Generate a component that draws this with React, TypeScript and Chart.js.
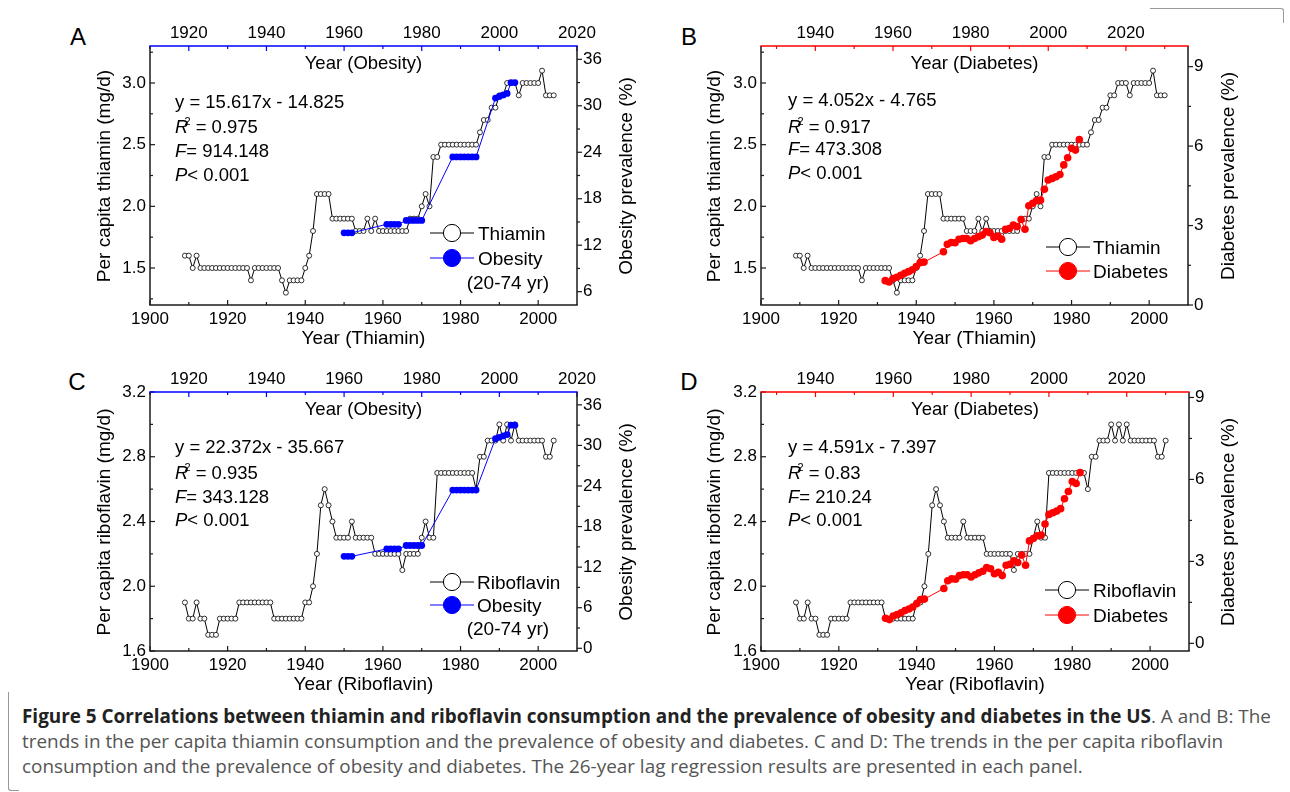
import React, { useEffect, useRef } from "react";
import { Chart, registerables } from "chart.js";

Chart.register(...registerables);

const AXIS_FONT = "'Liberation Sans', Arial, Helvetica, sans-serif";
const CAPTION_FONT = "'Open Sans', 'Noto Sans', sans-serif";
const AXIS_COLOR = "#1a1a1a";
const BLUE = "#0000ff";
const RED = "#ff0000";

// ---------------- data ----------------
// Annual per-capita supply (mg/d), one value per year starting at NUTRIENT_FIRST_YEAR
const NUTRIENT_FIRST_YEAR = 1909;
const THIAMIN = [
  1.6, 1.6, 1.5, 1.6,
  1.5, 1.5, 1.5, 1.5, 1.5, 1.5, 1.5, 1.5, 1.5, 1.5, 1.5, 1.5, 1.5,
  1.4,
  1.5, 1.5, 1.5, 1.5, 1.5, 1.5, 1.5,
  1.4, 1.3, 1.4, 1.4, 1.4, 1.4,
  1.5, 1.6, 1.8,
  2.1, 2.1, 2.1, 2.1,
  1.9, 1.9, 1.9, 1.9, 1.9, 1.9,
  1.8, 1.8, 1.8, 1.9, 1.8, 1.9,
  1.8, 1.8, 1.8, 1.8, 1.8, 1.8, 1.8, 1.8,
  1.9, 1.9, 1.9,
  2.0, 2.1, 2.0, 2.4, 2.4,
  2.5, 2.5, 2.5, 2.5, 2.5, 2.5, 2.5, 2.5, 2.5, 2.5,
  2.6, 2.7, 2.7, 2.8, 2.8, 2.9, 2.9,
  3.0, 3.0, 3.0, 2.9,
  3.0, 3.0, 3.0, 3.0, 3.0,
  3.1, 2.9, 2.9, 2.9,
];
const RIBOFLAVIN = [
  1.9, 1.8, 1.8, 1.9, 1.8, 1.8,
  1.7, 1.7, 1.7,
  1.8, 1.8, 1.8, 1.8, 1.8,
  1.9, 1.9, 1.9, 1.9, 1.9, 1.9, 1.9, 1.9, 1.9,
  1.8, 1.8, 1.8, 1.8, 1.8, 1.8, 1.8, 1.8,
  1.9, 1.9,
  2.0, 2.2, 2.5, 2.6, 2.5, 2.4,
  2.3, 2.3, 2.3, 2.3, 2.4,
  2.3, 2.3, 2.3, 2.3, 2.3,
  2.2, 2.2, 2.2, 2.2, 2.2, 2.2, 2.2,
  2.1, 2.2, 2.2, 2.2, 2.2,
  2.3, 2.4, 2.3, 2.3,
  2.7, 2.7, 2.7, 2.7, 2.7, 2.7, 2.7, 2.7, 2.7, 2.7,
  2.6, 2.8, 2.8,
  2.9, 2.9, 2.9, 3.0, 2.9, 3.0, 2.9, 3.0,
  2.9, 2.9, 2.9, 2.9, 2.9, 2.9, 2.9,
  2.8, 2.8, 2.9,
];

// Obesity prevalence, adults 20-74 yr (%)
const OBESITY_YEARS = [
  1960, 1961, 1962, 1971, 1972, 1973, 1974, 1976, 1977, 1978, 1979, 1980,
  1988, 1989, 1990, 1991, 1992, 1993, 1994, 1999, 2000, 2001, 2002, 2003, 2004,
];
const OBESITY = [
  13.6, 13.6, 13.6, 14.7, 14.7, 14.7, 14.7, 15.2, 15.2, 15.2, 15.2, 15.2,
  23.4, 23.4, 23.4, 23.4, 23.4, 23.4, 23.4, 31.0, 31.2, 31.4, 31.6, 33.0, 33.0,
];

// Diagnosed diabetes prevalence (%)
const DIABETES_YEARS = [
  1958, 1959, 1960, 1961, 1962, 1963, 1964, 1965, 1966, 1967, 1968,
  1973, 1974, 1975, 1976, 1977, 1978, 1979, 1980, 1981, 1982, 1983, 1984,
  1985, 1986, 1987, 1988, 1989, 1990, 1991, 1992, 1993, 1994, 1995, 1996,
  1997, 1998, 1999, 2000, 2001, 2002, 2003, 2004, 2005, 2006, 2007, 2008,
];
const DIABETES = [
  0.92, 0.87, 1.0, 1.05, 1.12, 1.2, 1.26, 1.33, 1.45, 1.6, 1.62,
  2.01, 2.29, 2.36, 2.35, 2.48, 2.51, 2.51, 2.43, 2.51, 2.58, 2.64, 2.77,
  2.73, 2.55, 2.6, 2.48, 2.86, 2.89, 3.02, 2.96, 3.23, 2.86, 3.75, 3.84,
  3.94, 3.96, 4.37, 4.72, 4.78, 4.84, 4.93, 5.29, 5.56, 5.92, 5.85, 6.25,
];

// ---------------- tick values ----------------
const YEAR_TICKS_BOTTOM = [1900, 1910, 1920, 1930, 1940, 1950, 1960, 1970, 1980, 1990, 2000];
const YEAR_TICKS_TOP_OBESITY = [1910, 1920, 1930, 1940, 1950, 1960, 1970, 1980, 1990, 2000, 2010, 2020];
const YEAR_TICKS_TOP_DIABETES = [1930, 1940, 1950, 1960, 1970, 1980, 1990, 2000, 2010, 2020, 2030];
const THIAMIN_TICKS = [1.25, 1.5, 1.75, 2.0, 2.25, 2.5, 2.75, 3.0, 3.25];
const RIBOFLAVIN_TICKS = [1.6, 1.8, 2.0, 2.2, 2.4, 2.6, 2.8, 3.0, 3.2];
const OBESITY_TICKS_A = [6, 9, 12, 15, 18, 21, 24, 27, 30, 33, 36];
const OBESITY_TICKS_C = [0, 3, 6, 9, 12, 15, 18, 21, 24, 27, 30, 33, 36];
const DIABETES_TICKS = [0, 1.5, 3, 4.5, 6, 7.5, 9];

const isMajor = (v: number, step: number) => Math.abs(v / step - Math.round(v / step)) < 1e-6;

// canvas margins around the plot area
const ML = 50, MR = 45, MT = 32, MB = 30;

type Panel = {
  key: string;
  l: number; t: number; r: number; b: number;
  nutrient: number[];
  yMin: number; yMax: number; yTicks: number[]; yMajor: number;
  prevYears: number[]; prevValues: number[]; color: string; prevRadius: number;
  y2Min: number; y2Max: number; y2Ticks: number[]; y2Major: number;
  x2Min: number; x2Max: number; x2Ticks: number[];
};

const PANELS: Panel[] = [
  {
    key: "A", l: 150, t: 46, r: 577, b: 305, nutrient: THIAMIN,
    yMin: 1.2, yMax: 3.3, yTicks: THIAMIN_TICKS, yMajor: 0.5,
    prevYears: OBESITY_YEARS, prevValues: OBESITY, color: BLUE, prevRadius: 3.4,
    y2Min: 4.28, y2Max: 37.72, y2Ticks: OBESITY_TICKS_A, y2Major: 6,
    x2Min: 1910, x2Max: 2020, x2Ticks: YEAR_TICKS_TOP_OBESITY,
  },
  {
    key: "B", l: 761, t: 46, r: 1188, b: 305, nutrient: THIAMIN,
    yMin: 1.2, yMax: 3.3, yTicks: THIAMIN_TICKS, yMajor: 0.5,
    prevYears: DIABETES_YEARS, prevValues: DIABETES, color: RED, prevRadius: 3.8,
    y2Min: 0, y2Max: 9.78, y2Ticks: DIABETES_TICKS, y2Major: 3,
    x2Min: 1926, x2Max: 2036, x2Ticks: YEAR_TICKS_TOP_DIABETES,
  },
  {
    key: "C", l: 150, t: 392, r: 577, b: 651, nutrient: RIBOFLAVIN,
    yMin: 1.6, yMax: 3.2, yTicks: RIBOFLAVIN_TICKS, yMajor: 0.4,
    prevYears: OBESITY_YEARS, prevValues: OBESITY, color: BLUE, prevRadius: 3.4,
    y2Min: -0.4, y2Max: 37.9, y2Ticks: OBESITY_TICKS_C, y2Major: 6,
    x2Min: 1910, x2Max: 2020, x2Ticks: YEAR_TICKS_TOP_OBESITY,
  },
  {
    key: "D", l: 761, t: 392, r: 1189, b: 651, nutrient: RIBOFLAVIN,
    yMin: 1.6, yMax: 3.2, yTicks: RIBOFLAVIN_TICKS, yMajor: 0.4,
    prevYears: DIABETES_YEARS, prevValues: DIABETES, color: RED, prevRadius: 3.8,
    y2Min: -0.28, y2Max: 9.2, y2Ticks: DIABETES_TICKS, y2Major: 3,
    x2Min: 1926, x2Max: 2036, x2Ticks: YEAR_TICKS_TOP_DIABETES,
  },
];

function makeAxesPlugin(p: Panel) {
  return {
    id: "panelAxes",
    afterDraw(chart: any) {
      const ctx = chart.ctx;
      const { left, right, top, bottom } = chart.chartArea;
      const seg = (x1: number, y1: number, x2: number, y2: number, color: string, w: number) => {
        ctx.beginPath();
        ctx.strokeStyle = color;
        ctx.lineWidth = w;
        ctx.moveTo(x1, y1);
        ctx.lineTo(x2, y2);
        ctx.stroke();
      };
      ctx.save();
      const sx = chart.scales.x, sx2 = chart.scales.x2, sy = chart.scales.y, sy2 = chart.scales.y2;
      sx.ticks.forEach((t: any) => {
        const px = sx.getPixelForValue(t.value);
        seg(px, bottom, px, bottom - (isMajor(t.value, 20) ? 5 : 3), AXIS_COLOR, 1.2);
      });
      sx2.ticks.forEach((t: any) => {
        const px = sx2.getPixelForValue(t.value);
        seg(px, top, px, top + (isMajor(t.value, 20) ? 5 : 3), p.color, 1.2);
      });
      sy.ticks.forEach((t: any) => {
        const py = sy.getPixelForValue(t.value);
        seg(left, py, left + (isMajor(t.value, p.yMajor) ? 5 : 3), py, AXIS_COLOR, 1.2);
      });
      sy2.ticks.forEach((t: any) => {
        const py = sy2.getPixelForValue(t.value);
        seg(right, py, right + (isMajor(t.value, p.y2Major) ? 5 : 3), py, AXIS_COLOR, 1.2);
      });
      seg(left, top, left, bottom, AXIS_COLOR, 1.5);
      seg(right, top, right, bottom, AXIS_COLOR, 1.5);
      seg(left - 0.75, bottom, right + 0.75, bottom, AXIS_COLOR, 1.5);
      seg(left - 0.75, top, right + 0.75, top, p.color, 1.5);
      ctx.restore();
    },
  };
}

function scaleBase(extra: any) {
  return {
    type: "linear",
    grid: { display: false, drawTicks: false },
    border: { display: false },
    ...extra,
  };
}

function tickFont() {
  return { family: AXIS_FONT, size: 17 };
}

function PanelChart({ p }: { p: Panel }) {
  const ref = useRef<HTMLCanvasElement | null>(null);
  const W = p.r - p.l + ML + MR;
  const H = p.b - p.t + MT + MB;
  useEffect(() => {
    if (!ref.current) return;
    const chart = new Chart(ref.current, {
      type: "line",
      data: {
        datasets: [
          {
            label: "prevalence",
            data: p.prevYears.map((x, i) => ({ x, y: p.prevValues[i] })),
            xAxisID: "x2",
            yAxisID: "y2",
            borderColor: p.color,
            backgroundColor: p.color,
            pointBackgroundColor: p.color,
            pointBorderColor: p.color,
            pointBorderWidth: 0,
            pointRadius: p.prevRadius,
            borderWidth: 1,
            tension: 0,
            order: 0,
          },
          {
            label: "nutrient",
            data: p.nutrient.map((y, i) => ({ x: NUTRIENT_FIRST_YEAR + i, y })),
            xAxisID: "x",
            yAxisID: "y",
            borderColor: "#000",
            backgroundColor: "#fff",
            pointBackgroundColor: "#fff",
            pointBorderColor: "#000",
            pointBorderWidth: 0.8,
            pointRadius: 2.5,
            borderWidth: 1,
            tension: 0,
            order: 1,
          },
        ],
      },
      options: {
        responsive: false,
        animation: false,
        devicePixelRatio: 1,
        layout: { padding: 0, autoPadding: false },
        plugins: { legend: { display: false }, tooltip: { enabled: false } },
        scales: {
          x: scaleBase({
            position: "bottom",
            min: 1900,
            max: 2010,
            afterBuildTicks: (s: any) => { s.ticks = YEAR_TICKS_BOTTOM.map((v) => ({ value: v })); },
            afterFit: (s: any) => { s.height = MB; },
            ticks: {
              autoSkip: false, maxRotation: 0, padding: 4, color: "#000", font: tickFont(),
              callback: (v: number) => (isMajor(v, 20) ? String(v) : ""),
            },
          }),
          x2: scaleBase({
            position: "top",
            min: p.x2Min,
            max: p.x2Max,
            afterBuildTicks: (s: any) => { s.ticks = p.x2Ticks.map((v) => ({ value: v })); },
            afterFit: (s: any) => { s.height = MT; },
            ticks: {
              autoSkip: false, maxRotation: 0, padding: 2, color: "#000", font: tickFont(),
              callback: (v: number) => (isMajor(v, 20) ? String(v) : ""),
            },
          }),
          y: scaleBase({
            position: "left",
            min: p.yMin,
            max: p.yMax,
            afterBuildTicks: (s: any) => { s.ticks = p.yTicks.map((v) => ({ value: v })); },
            afterFit: (s: any) => { s.width = ML; },
            ticks: {
              autoSkip: false, padding: 4, color: "#000", font: tickFont(),
              callback: (v: number) => (isMajor(v, p.yMajor) ? v.toFixed(1) : ""),
            },
          }),
          y2: scaleBase({
            position: "right",
            min: p.y2Min,
            max: p.y2Max,
            afterBuildTicks: (s: any) => { s.ticks = p.y2Ticks.map((v) => ({ value: v })); },
            afterFit: (s: any) => { s.width = MR; },
            ticks: {
              autoSkip: false, padding: 6, color: "#000", font: tickFont(),
              callback: (v: number) => (isMajor(v, p.y2Major) ? String(v) : ""),
            },
          }),
        },
      } as any,
      plugins: [makeAxesPlugin(p)],
    } as any);
    return () => chart.destroy();
  }, [p]);
  return (
    <canvas
      ref={ref}
      width={W}
      height={H}
      style={{ position: "absolute", left: p.l - ML, top: p.t - MT, width: W, height: H }}
    />
  );
}

type TxtProps = {
  x: number; y: number; size?: number; align?: "center" | "left";
  rotate?: number; children: any; style?: any; font?: string;
};
function Txt({ x, y, size = 19, align = "center", rotate = 0, children, style, font }: TxtProps) {
  return (
    <div
      style={{
        position: "absolute",
        left: x,
        top: y,
        transform: `translate(${align === "center" ? "-50%" : "0"}, -50%) rotate(${rotate}deg)`,
        fontFamily: font || AXIS_FONT,
        fontSize: size,
        lineHeight: 1,
        whiteSpace: "nowrap",
        color: "#000",
        ...style,
      }}
    >
      {children}
    </div>
  );
}

function LegendSymbol({ cx, cy, color, filled }: { cx: number; cy: number; color: string; filled: boolean }) {
  return (
    <svg
      style={{ position: "absolute", left: cx - 22, top: cy - 11 }}
      width={44}
      height={22}
    >
      <line x1={0} y1={11} x2={44} y2={11} stroke={color} strokeWidth={1} />
      <circle cx={22} cy={11} r={8.6} fill={filled ? color : "#fff"} stroke={color} strokeWidth={1} />
    </svg>
  );
}

function Stats({ x, ys, eq, r2, f }: { x: number; ys: number[]; eq: string; r2: string; f: string }) {
  return (
    <>
      <Txt x={x} y={ys[0]} size={18.5} align="left">{eq}</Txt>
      <Txt x={x} y={ys[1]} size={18.5} align="left">
        <i>R</i>
        <span style={{ fontSize: 11, position: "relative", top: -8, marginLeft: -4 }}>2</span> = {r2}
      </Txt>
      <Txt x={x} y={ys[2]} size={18.5} align="left"><i>F</i>= {f}</Txt>
      <Txt x={x} y={ys[3]} size={18.5} align="left"><i>P</i>&lt; 0.001</Txt>
    </>
  );
}

export default function App() {
  return (
    <div
      style={{
        position: "absolute",
        left: 0,
        top: 0,
        width: 1290,
        height: 792,
        background: "#fff",
        overflow: "hidden",
      }}
    >
      {PANELS.map((p) => (
        <PanelChart key={p.key} p={p} />
      ))}

      {/* Panel letters */}
      <Txt x={78} y={37} size={24}>A</Txt>
      <Txt x={689} y={37} size={24}>B</Txt>
      <Txt x={77} y={382} size={24}>C</Txt>
      <Txt x={689} y={382} size={24}>D</Txt>

      {/* Panel A */}
      <Txt x={363.5} y={63} size={18.5}>Year (Obesity)</Txt>
      <Txt x={363.5} y={337}>Year (Thiamin)</Txt>
      <Txt x={103} y={175.5} rotate={-90}>Per capita thiamin (mg/d)</Txt>
      <Txt x={625} y={175.5} rotate={-90}>Obesity prevalence (%)</Txt>
      <Stats x={175} ys={[101.7, 127.3, 150.7, 175]} eq="y = 15.617x - 14.825" r2="0.975" f="914.148" />
      <LegendSymbol cx={451.7} cy={233} color="#000" filled={false} />
      <Txt x={478} y={233} align="left">Thiamin</Txt>
      <LegendSymbol cx={451.7} cy={257.7} color={BLUE} filled={true} />
      <Txt x={478} y={257.7} align="left">Obesity</Txt>
      <Txt x={466.7} y={281.7} align="left">(20-74 yr)</Txt>

      {/* Panel B */}
      <Txt x={974.5} y={63} size={18.5}>Year (Diabetes)</Txt>
      <Txt x={974.5} y={337}>Year (Thiamin)</Txt>
      <Txt x={713} y={175.5} rotate={-90}>Per capita thiamin (mg/d)</Txt>
      <Txt x={1227} y={175.5} rotate={-90}>Diabetes prevalence (%)</Txt>
      <Stats x={788} ys={[100, 126.7, 149.3, 172.7]} eq="y = 4.052x - 4.765" r2="0.917" f="473.308" />
      <LegendSymbol cx={1068} cy={247.3} color="#000" filled={false} />
      <Txt x={1093} y={247.3} align="left">Thiamin</Txt>
      <LegendSymbol cx={1068} cy={270.7} color={RED} filled={true} />
      <Txt x={1093} y={270.7} align="left">Diabetes</Txt>

      {/* Panel C */}
      <Txt x={363.5} y={409} size={18.5}>Year (Obesity)</Txt>
      <Txt x={363.5} y={683}>Year (Riboflavin)</Txt>
      <Txt x={103} y={521.5} rotate={-90}>Per capita riboflavin (mg/d)</Txt>
      <Txt x={625} y={521.5} rotate={-90}>Obesity prevalence (%)</Txt>
      <Stats x={175} ys={[446.7, 472.7, 496.7, 520]} eq="y = 22.372x - 35.667" r2="0.935" f="343.128" />
      <LegendSymbol cx={451.7} cy={581.7} color="#000" filled={false} />
      <Txt x={477} y={581.7} align="left">Riboflavin</Txt>
      <LegendSymbol cx={451.7} cy={605} color={BLUE} filled={true} />
      <Txt x={477} y={605} align="left">Obesity</Txt>
      <Txt x={466.7} y={628.3} align="left">(20-74 yr)</Txt>

      {/* Panel D */}
      <Txt x={975} y={409} size={18.5}>Year (Diabetes)</Txt>
      <Txt x={975} y={683}>Year (Riboflavin)</Txt>
      <Txt x={713} y={521.5} rotate={-90}>Per capita riboflavin (mg/d)</Txt>
      <Txt x={1227} y={521.5} rotate={-90}>Diabetes prevalence (%)</Txt>
      <Stats x={788} ys={[446.7, 472.7, 496.7, 520]} eq="y = 4.591x - 7.397" r2="0.83" f="210.24" />
      <LegendSymbol cx={1066.7} cy={590} color="#000" filled={false} />
      <Txt x={1093} y={590} align="left">Riboflavin</Txt>
      <LegendSymbol cx={1066.7} cy={615} color={RED} filled={true} />
      <Txt x={1093} y={615} align="left">Diabetes</Txt>

      {/* frame fragments */}
      <div style={{ position: "absolute", left: 1150, top: 8, width: 133, height: 14, borderTop: "1px solid #999", borderRight: "1px solid #999", borderTopRightRadius: 3 }} />
      <div style={{ position: "absolute", left: 8, top: 692, width: 10, height: 98, borderLeft: "1px solid #999", borderBottomLeftRadius: 3, borderBottom: "1px solid #999" }} />

      {/* caption */}
      <div
        style={{
          position: "absolute",
          left: 22,
          top: 703.5,
          fontFamily: CAPTION_FONT,
          fontSize: 18.9,
          lineHeight: "25px",
          color: "#555",
          whiteSpace: "nowrap",
        }}
      >
        <div>
          <b style={{ color: "#222" }}>
            Figure 5 Correlations between thiamin and riboflavin consumption and the prevalence of obesity and diabetes in the US
          </b>
          . A and B: The
        </div>
        <div>
          trends in the per capita thiamin consumption and the prevalence of obesity and diabetes. C and D: The trends in the per capita riboflavin
        </div>
        <div>
          consumption and the prevalence of obesity and diabetes. The 26-year lag regression results are presented in each panel.
        </div>
      </div>
    </div>
  );
}
